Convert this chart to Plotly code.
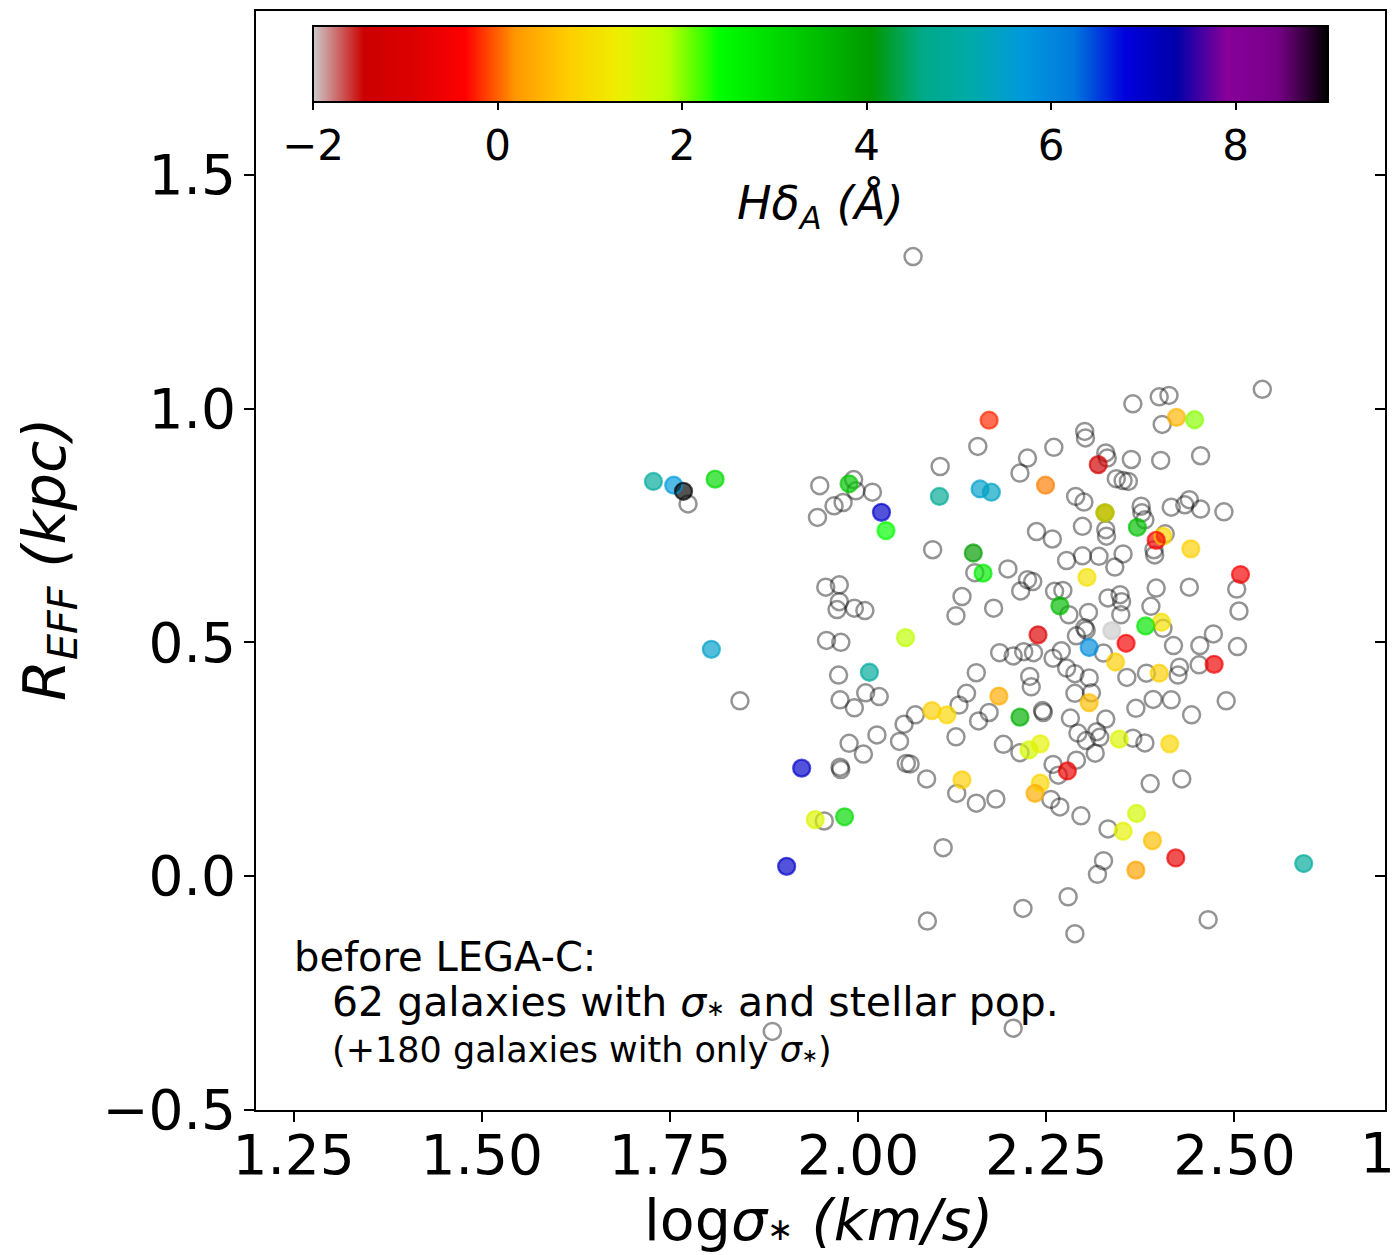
import plotly.graph_objects as go

# ---- galaxies with only a stellar velocity dispersion (open symbols) ----
only_sigma_logsig = [
    1.774, 1.949, 1.994, 1.997, 2.019, 1.968, 1.980, 1.946, 2.159, 2.109,
    2.099, 2.155, 1.957, 1.975, 1.975, 1.972, 1.995, 2.009, 2.138, 2.130,
    2.180, 1.958, 1.977, 1.974, 2.157, 2.188,
    2.537, 2.365, 2.400, 2.413, 2.404, 2.301, 2.302, 2.260, 2.225, 2.215,
    2.329, 2.331, 2.363, 2.402, 2.455, 2.343, 2.352, 2.359, 2.289, 2.300,
    2.376, 2.377, 2.381, 2.416, 2.434, 2.440, 2.455, 2.486, 2.408, 2.393,
    2.394, 2.237, 2.258, 2.298, 2.329, 2.330, 2.277, 2.298, 2.320, 2.352,
    2.341, 2.199, 2.503, 2.506, 2.396, 2.440, 2.216, 2.225, 2.232, 2.261,
    2.272, 2.280, 2.332, 2.348, 2.350, 2.349, 2.389, 2.306, 2.405, 2.301,
    2.303, 2.290, 2.419, 2.454, 2.472, 2.504, 2.206, 2.220, 2.233, 2.259,
    2.270, 2.277, 2.326, 2.427, 2.453, 2.228, 2.288, 2.307, 2.357, 2.383,
    2.425,
    1.843, 1.976, 2.010, 2.028, 1.995, 2.144, 2.134, 2.160, 2.174, 2.076,
    2.061, 2.055, 2.025, 1.988, 2.007, 2.130, 2.245, 2.246, 2.230, 2.193,
    2.215, 2.259, 2.266, 1.976, 1.977, 2.064, 2.069, 2.091, 2.131, 2.157,
    2.183, 2.256, 2.268, 1.955, 2.113, 2.279, 2.219, 2.092, 2.288,
    2.310, 2.288, 2.369, 2.392, 2.416, 2.489, 2.443, 2.282, 2.329, 2.292,
    2.303, 2.317, 2.321, 2.315, 2.365, 2.381, 2.290, 2.388, 2.430, 2.296,
    2.332, 2.326, 2.318, 2.465,
    2.073, 1.886, 2.206,
]
only_sigma_reff = [
    0.796, 0.835, 0.848, 0.824, 0.821, 0.792, 0.799, 0.767, 0.919, 0.876,
    0.698, 0.649, 0.618, 0.623, 0.587, 0.570, 0.573, 0.568, 0.598, 0.557,
    0.573, 0.504, 0.500, 0.430, 0.435, 0.478,
    1.041, 1.010, 1.025, 1.028, 0.966, 0.951, 0.937, 0.917, 0.894, 0.862,
    0.905, 0.894, 0.891, 0.889, 0.899, 0.850, 0.846, 0.844, 0.812, 0.800,
    0.791, 0.777, 0.762, 0.789, 0.794, 0.805, 0.785, 0.779, 0.732, 0.698,
    0.687, 0.737, 0.721, 0.748, 0.741, 0.727, 0.675, 0.685, 0.684, 0.689,
    0.661, 0.657, 0.614, 0.567, 0.616, 0.618, 0.610, 0.634, 0.630, 0.609,
    0.611, 0.559, 0.595, 0.602, 0.587, 0.559, 0.577, 0.564, 0.530, 0.531,
    0.526, 0.514, 0.493, 0.493, 0.518, 0.491, 0.471, 0.480, 0.478, 0.466,
    0.482, 0.445, 0.477, 0.447, 0.452, 0.427, 0.433, 0.424, 0.425, 0.434,
    0.430,
    0.375, 0.377, 0.392, 0.384, 0.360, 0.391, 0.366, 0.332, 0.350, 0.345,
    0.325, 0.288, 0.302, 0.284, 0.261, 0.298, 0.354, 0.350, 0.405, 0.282,
    0.264, 0.239, 0.216, 0.233, 0.228, 0.241, 0.240, 0.208, 0.177, 0.156,
    0.165, 0.164, 0.148, 0.118, 0.061, -0.044, -0.069, -0.096, -0.123,
    0.392, 0.391, 0.359, 0.378, 0.377, 0.375, 0.345, 0.338, 0.336, 0.306,
    0.290, 0.309, 0.297, 0.263, 0.295, 0.285, 0.248, 0.198, 0.208, 0.129,
    0.101, 0.033, 0.004, -0.093,
    1.325, -0.332, -0.325,
]

# ---- galaxies with dispersion and stellar population (coloured by H-delta_A) ----
pop_logsig = [
    1.728, 1.755, 1.768, 1.810, 1.988, 2.031, 2.037, 2.174, 2.108, 2.162,
    2.177, 2.153, 2.166, 2.063, 1.805, 2.015, 2.423, 2.447, 2.319, 2.249,
    2.328, 2.328, 2.371, 2.405, 2.396, 2.442, 2.304, 2.508, 2.268, 2.403,
    2.382, 2.337, 2.239, 2.356, 2.307, 2.342, 2.473, 2.400, 2.187, 2.098,
    2.118, 2.215, 2.227, 2.242, 2.278, 1.925, 2.138, 2.242, 2.235, 1.943,
    1.982, 1.905, 2.307, 2.347, 2.414, 2.370, 2.352, 2.391, 2.422, 2.369,
    2.592,
]
pop_reff = [
    0.844, 0.836, 0.823, 0.849, 0.839, 0.778, 0.739, 0.975, 0.812, 0.828,
    0.821, 0.691, 0.648, 0.510, 0.485, 0.436, 0.981, 0.976, 0.880, 0.836,
    0.777, 0.777, 0.746, 0.727, 0.718, 0.700, 0.639, 0.645, 0.578, 0.543,
    0.535, 0.525, 0.516, 0.498, 0.489, 0.458, 0.453, 0.434, 0.385, 0.354,
    0.345, 0.340, 0.270, 0.283, 0.225, 0.231, 0.206, 0.199, 0.177, 0.121,
    0.127, 0.021, 0.371, 0.293, 0.283, 0.134, 0.096, 0.076, 0.039, 0.013,
    0.027,
]
pop_hdelta = [
    4.9, 5.7, 9.0, 3.0, 3.3, 7.0, 2.4, -0.2, 4.8, 5.5,
    5.4, 4.0, 2.7, 1.8, 5.5, 4.9, 0.5, 2.0, -1.3, 0.1,
    3.8, 0.7, 3.4, 0.9, -0.4, 0.8, 1.1, -0.5, 3.5, 1.1,
    2.8, -2.0, -0.9, -0.5, 5.9, 0.8, -0.6, 0.8, 0.4, 0.8,
    0.9, 3.7, 1.6, 1.4, -0.6, 7.0, 0.8, 0.9, 0.4, 1.5,
    3.0, 7.0, 0.6, 1.5, 0.9, 1.6, 1.4, 0.6, -0.7, 0.3,
    4.9,
]

# colour bar limits and ticks
hd_min, hd_max = -2, 9
cbar_ticks = [-2, 0, 2, 4, 6, 8]
cbar_ticktext = ["\u22122", "0", "2", "4", "6", "8"]

x_ticks = [1.25, 1.50, 1.75, 2.00, 2.25, 2.50]
x_ticktext = ["1.25", "1.50", "1.75", "2.00", "2.25", "2.50"]
y_ticks = [-0.5, 0.0, 0.5, 1.0, 1.5]
y_ticktext = ["\u22120.5", "0.0", "0.5", "1.0", "1.5"]

# nipy_spectral segment table, used reversed
ns_pos = [i * 0.05 for i in range(21)]
ns_r = [0.0, 0.4667, 0.5333, 0.0, 0.0, 0.0, 0.0, 0.0, 0.0, 0.0, 0.0,
        0.0, 0.0, 0.7333, 0.9333, 1.0, 1.0, 1.0, 0.8667, 0.80, 0.80]
ns_g = [0.0, 0.0, 0.0, 0.0, 0.0, 0.4667, 0.6, 0.6667, 0.6667, 0.6, 0.7333,
        0.8667, 1.0, 1.0, 0.9333, 0.8, 0.6, 0.0, 0.0, 0.0, 0.80]
ns_b = [0.0, 0.5333, 0.6, 0.6667, 0.8667, 0.8667, 0.8667, 0.6667, 0.5333,
        0.0, 0.0, 0.0, 0.0, 0.0, 0.0, 0.0, 0.0, 0.0, 0.0, 0.0, 0.80]
colorscale = []
for p, r, g, b in reversed(list(zip(ns_pos, ns_r, ns_g, ns_b))):
    colorscale.append([round(1 - p, 4),
                       f"rgb({round(r*255)},{round(g*255)},{round(b*255)})"])

FONT = "DejaVu Sans"
W, H = 1394, 1255
ML, MR, MT, MB = 256, 9, 11, 145
PW, PH = W - ML - MR, H - MT - MB


def px_x(px):
    return (px - ML) / PW


def px_y(py):
    return (H - MB - py) / PH


MSIZE = 17
ALPHA = 0.68
STAR = '<span style="font-size:55%">∗</span>'

fig = go.Figure()

fig.add_trace(go.Scatter(
    x=only_sigma_logsig, y=only_sigma_reff, mode="markers",
    marker=dict(symbol="circle-open", size=MSIZE, color="black",
                opacity=0.42, line=dict(width=2.5)),
    hoverinfo="skip", showlegend=False))

fig.add_trace(go.Scatter(
    x=pop_logsig, y=pop_reff, mode="markers",
    marker=dict(symbol="circle", size=MSIZE, color=pop_hdelta,
                colorscale=colorscale, cmin=hd_min, cmax=hd_max,
                opacity=ALPHA, line=dict(width=0), showscale=True,
                colorbar=dict(
                    orientation="h", x=px_x(820.5), xanchor="center",
                    y=px_y(25.7), yanchor="top",
                    len=1015, lenmode="pixels",
                    thickness=76, thicknessmode="pixels",
                    xpad=0, ypad=0,
                    outlinewidth=2, outlinecolor="black",
                    ticks="outside", ticklen=7, tickwidth=2,
                    tickcolor="black",
                    tickvals=cbar_ticks, ticktext=cbar_ticktext,
                    tickfont=dict(family=FONT, size=42, color="black"))),
    hoverinfo="skip", showlegend=False))

fig.add_trace(go.Scatter(
    x=pop_logsig, y=pop_reff, mode="markers",
    marker=dict(symbol="circle-open", size=MSIZE, color=pop_hdelta,
                colorscale=colorscale, cmin=hd_min, cmax=hd_max,
                opacity=ALPHA, line=dict(width=2.3), showscale=False),
    hoverinfo="skip", showlegend=False))

# empty trace carrying the right-hand axis with inward ticks
fig.add_trace(go.Scatter(x=[], y=[], yaxis="y2", showlegend=False))

axis_common = dict(showgrid=False, zeroline=False, ticks="outside",
                   ticklen=10, tickwidth=2, tickcolor="black",
                   showline=True, linewidth=2, linecolor="black",
                   mirror=True,
                   tickfont=dict(family=FONT, size=55, color="black"))

fig.update_layout(
    width=W, height=H,
    margin=dict(l=ML, r=MR, t=MT, b=MB, autoexpand=False),
    paper_bgcolor="white", plot_bgcolor="white",
    xaxis=dict(range=[1.2, 2.7], tickvals=x_ticks, ticktext=x_ticktext,
               ticklabelstandoff=-14, **axis_common),
    yaxis=dict(range=[-0.5, 1.85], tickvals=y_ticks, ticktext=y_ticktext,
               ticklabelstandoff=-3, **axis_common),
    yaxis2=dict(range=[-0.5, 1.85], overlaying="y", side="right",
                tickvals=y_ticks, ticks="inside", ticklen=10, tickwidth=2,
                tickcolor="black", showticklabels=False, showline=False,
                showgrid=False, zeroline=False),
)

ann = [
    dict(text=f"log<i>σ</i>{STAR} <i>(km/s)</i>", x=px_x(818),
         y=px_y(1220), font=dict(size=57)),
    dict(text="<i>R<sub>EFF</sub> (kpc)</i>", x=px_x(48), y=px_y(560),
         textangle=-90, font=dict(size=59)),
    dict(text="<i>Hδ<sub>A</sub> (Å)</i>", x=px_x(820), y=px_y(206),
         font=dict(size=46)),
    dict(text="before LEGA-C:", x=px_x(292), y=px_y(957),
         xanchor="left", font=dict(size=40)),
    dict(text=f"62 galaxies with <i>σ</i>{STAR} and stellar pop.",
         x=px_x(330), y=px_y(1002), xanchor="left", font=dict(size=41)),
    dict(text=f"(+180 galaxies with only <i>σ</i>{STAR})",
         x=px_x(330), y=px_y(1050), xanchor="left", font=dict(size=35)),
    dict(text="1", x=px_x(1358), y=px_y(1153), xanchor="left",
         font=dict(size=55)),
]
for a in ann:
    a.setdefault("xanchor", "center")
    a["font"] = dict(family=FONT, color="black", **a["font"])
    fig.add_annotation(xref="paper", yref="paper", showarrow=False,
                       yanchor="middle", **a)

fig.write_html("out.html")
